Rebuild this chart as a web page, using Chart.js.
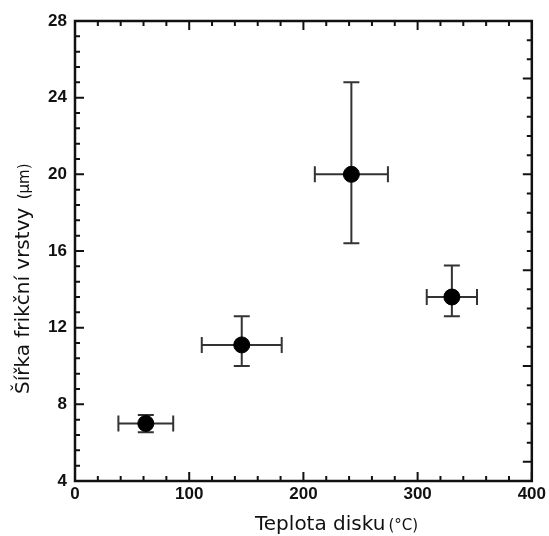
<!DOCTYPE html>
<html><head><meta charset="utf-8">
<script src="https://cdn.jsdelivr.net/npm/chart.js@4"></script>
<style>html,body{margin:0;padding:0;background:#fff;overflow:hidden}#wrap{width:549px;height:536px;position:relative}</style>
</head><body><div id="wrap"><canvas id="c" width="549" height="536"></canvas></div>
<script>
// Data
const temperatures = [62, 146, 242, 330];        // Teplota disku (°C)
const widths = [7.0, 11.1, 20.0, 13.6];          // Šířka frikční vrstvy (µm)
const tempErr = [24, 35, 32, 22];                // ± °C
const widthErrUp = [0.45, 1.5, 4.8, 1.65];       // + µm
const widthErrDown = [0.45, 1.1, 3.6, 1.0];      // - µm
const xTickValues = [0, 100, 200, 300, 400];
const yTickValues = [4, 8, 12, 16, 20, 24, 28];
const xTitle = 'Teplota disku';
const xUnit = '(°C)';
const yTitle = 'Šířka frikční vrstvy ';
const yUnit = '(µm)';

const tickFont = {family: 'Liberation Sans', size: 17, weight: 'bold'};

const framePlugin = {
  id: 'framePlugin',
  beforeDatasetsDraw(chart) {
    const {ctx, scales: {x, y}} = chart;
    ctx.save();
    ctx.strokeStyle = '#333';
    ctx.lineWidth = 2;
    const cap = 8;
    temperatures.forEach((t, i) => {
      const px = x.getPixelForValue(t), py = y.getPixelForValue(widths[i]);
      const x1 = x.getPixelForValue(t - tempErr[i]), x2 = x.getPixelForValue(t + tempErr[i]);
      const y1 = y.getPixelForValue(widths[i] + widthErrUp[i]), y2 = y.getPixelForValue(widths[i] - widthErrDown[i]);
      ctx.beginPath();
      ctx.moveTo(x1, py); ctx.lineTo(x2, py);
      ctx.moveTo(x1, py - cap); ctx.lineTo(x1, py + cap);
      ctx.moveTo(x2, py - cap); ctx.lineTo(x2, py + cap);
      ctx.moveTo(px, y1); ctx.lineTo(px, y2);
      ctx.moveTo(px - cap, y1); ctx.lineTo(px + cap, y1);
      ctx.moveTo(px - cap, y2); ctx.lineTo(px + cap, y2);
      ctx.stroke();
    });
    ctx.restore();
  },
  afterDraw(chart) {
    const {ctx, chartArea: a, scales: {x, y}} = chart;
    ctx.save();
    ctx.strokeStyle = '#111';
    ctx.lineWidth = 2.5;
    ctx.strokeRect(a.left, a.top, a.right - a.left, a.bottom - a.top);
    ctx.lineWidth = 2;
    ctx.beginPath();
    for (let k = 0; k <= 20; k++) {
      const px = x.getPixelForValue(k * 20);
      const len = (k % 5 === 0) ? 9 : 5;
      ctx.moveTo(px, a.bottom); ctx.lineTo(px, a.bottom - len);
      ctx.moveTo(px, a.top); ctx.lineTo(px, a.top + len);
    }
    for (let k = 0; k <= 30; k++) {
      const py = y.getPixelForValue(4 + k * 0.8);
      const len = (k % 5 === 0) ? 9 : 5;
      ctx.moveTo(a.left, py); ctx.lineTo(a.left + len, py);
    }
    for (let v = 4; v <= 28; v++) {
      const py = y.getPixelForValue(v);
      const len = (v % 5 === 0) ? 9 : 5;
      ctx.moveTo(a.right, py); ctx.lineTo(a.right - len, py);
    }
    ctx.stroke();

    ctx.fillStyle = '#111';
    ctx.textBaseline = 'alphabetic';
    ctx.textAlign = 'left';
    const big = '20px "DejaVu Sans", Verdana, sans-serif';
    const small = '15px "DejaVu Sans", Verdana, sans-serif';
    ctx.font = big;
    const wx1 = ctx.measureText(xTitle).width;
    const xStart = a.left + 180;
    const xBase = 530;
    ctx.fillText(xTitle, xStart, xBase);
    ctx.font = small; ctx.fillText(xUnit, xStart + wx1 + 3, xBase);

    ctx.translate(29, 394);
    ctx.rotate(-Math.PI / 2);
    ctx.font = big;
    const wy1 = ctx.measureText(yTitle).width;
    ctx.fillText(yTitle, 0, 0);
    ctx.font = small;
    ctx.fillText(yUnit, wy1 + 2, 0);
    ctx.restore();
  }
};

new Chart(document.getElementById('c'), {
  type: 'scatter',
  data: {
    datasets: [{
      data: temperatures.map((t, i) => ({x: t, y: widths[i]})),
      backgroundColor: '#000',
      borderColor: '#000',
      pointRadius: 8,
      pointHoverRadius: 8
    }]
  },
  options: {
    responsive: false,
    animation: false,
    events: [],
    layout: {padding: {left: 35, right: 14, top: 21, bottom: 25}},
    plugins: {legend: {display: false}, tooltip: {enabled: false}},
    scales: {
      x: {
        type: 'linear', min: 0, max: 400,
        afterBuildTicks(s) { s.ticks = xTickValues.map(v => ({value: v})); },
        afterFit(s) { s.height = 30; },
        grid: {display: false, drawTicks: false},
        border: {display: false},
        ticks: {font: tickFont, color: '#111', padding: 3, maxRotation: 0}
      },
      y: {
        type: 'linear', min: 4, max: 28,
        afterBuildTicks(s) { s.ticks = yTickValues.map(v => ({value: v})); },
        afterFit(s) { s.width = 40; },
        grid: {display: false, drawTicks: false},
        border: {display: false},
        ticks: {font: tickFont, color: '#111', padding: 8}
      }
    }
  },
  plugins: [framePlugin]
});
</script></body></html>
